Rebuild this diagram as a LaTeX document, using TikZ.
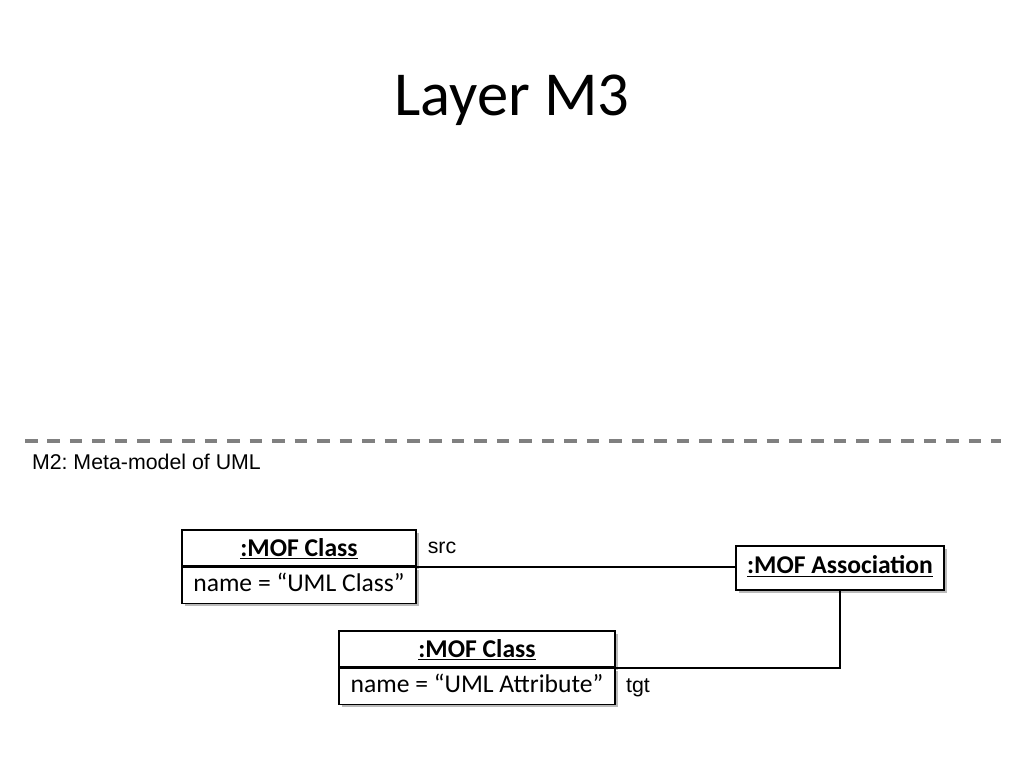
\documentclass[tikz,border=0pt]{standalone}
\usepackage{fontspec}
\setmainfont{Carlito}
\newfontfamily\arialfont{Liberation Sans}
\usetikzlibrary{positioning,shadows}
\frenchspacing
% underlined object name
\newcommand{\objname}[1]{\setbox0\hbox{\bfseries #1}\leavevmode\rlap{\vrule width\wd0 height -1.4pt depth 2.4pt}\box0}

\tikzset{
  objbox/.style={draw,line width=1.1pt,fill=white,inner sep=3pt,
    text height=15.3pt,text depth=4pt,
    minimum height=25.3pt,font=\fontsize{18}{21}\selectfont,
    drop shadow={shadow xshift=2pt,shadow yshift=-2pt,fill=black!45,opacity=0.6}},
  attrbox/.style={objbox,text height=13.9pt,text depth=5.4pt},
  assoc/.style={line width=1.1pt},
  rolelabel/.style={font=\arialfont\fontsize{15}{17}\selectfont},
  layerline/.style={line width=2.4pt,draw=black!50,dash pattern=on 8.8pt off 7pt}
}

\begin{document}
\begin{tikzpicture}[x=0.703125pt,y=-0.703125pt]
        \useasboundingbox (0,0) rectangle (1024,768);
        % title
        \node (title) at (512,100) {\fontsize{44}{52}\selectfont Layer M3};
        % layer border
        \draw[layerline] (25,441) -- (1001,441);
        \node[rolelabel,anchor=west] (layer) at (27,462) {M2: Meta-model of UML};
        % objects
        \node[objbox,minimum width=164.5pt] (clshead) at (299,548) {\objname{:MOF Class}};
        \node[attrbox,minimum width=164.5pt,below=0pt of clshead] (clsattr) {name = “UML Class”};
        \node[objbox,minimum width=194.1pt] (attrhead) at (477,649) {\objname{:MOF Class}};
        \node[attrbox,minimum width=194.1pt,below=0pt of attrhead] (attrattr) {name = “UML Attribute”};
        \node[objbox,minimum width=146.25pt,minimum height=30.9pt,text height=16.65pt,text depth=8.25pt] (mofassoc) at (840,568) {\objname{:MOF Association}};
        % links
        \draw[assoc] (clshead.south east) -- (clshead.south east -| mofassoc.west);
        \draw[assoc] (mofassoc.south) |- (attrhead.south east);
        \node[rolelabel] (src) at (442,548) {src};
        \node[rolelabel] (tgt) at (638,688) {tgt};
    \end{tikzpicture}
\end{document}
